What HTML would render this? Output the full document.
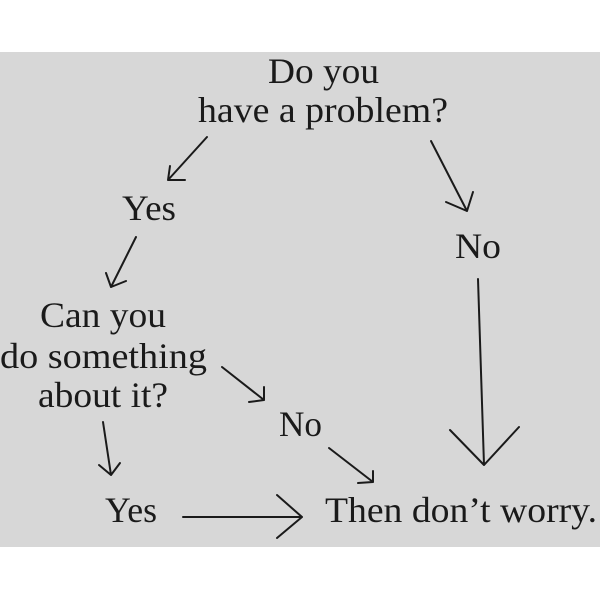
<!DOCTYPE html>
<html><head><style>
html,body{margin:0;padding:0;background:#fff;}
svg{display:block;}
text{font-family:"Liberation Serif",serif;font-size:36px;fill:#1a1a1a;}
</style></head><body>
<svg width="600" height="600" viewBox="0 0 600 600" xmlns="http://www.w3.org/2000/svg">
<rect x="0" y="0" width="600" height="600" fill="#fff"/>
<rect x="0" y="52" width="600" height="495" fill="#d7d7d7"/>
<text x="268" y="83" textLength="111" lengthAdjust="spacingAndGlyphs">Do you</text>
<text x="198" y="122" textLength="250" lengthAdjust="spacingAndGlyphs">have a problem?</text>
<text x="122" y="220" textLength="54" lengthAdjust="spacingAndGlyphs">Yes</text>
<text x="455" y="258" textLength="46" lengthAdjust="spacingAndGlyphs">No</text>
<text x="40" y="327" textLength="126" lengthAdjust="spacingAndGlyphs">Can you</text>
<text x="0" y="368" textLength="207" lengthAdjust="spacingAndGlyphs">do something</text>
<text x="38" y="407" textLength="130" lengthAdjust="spacingAndGlyphs">about it?</text>
<text x="279" y="436" textLength="43" lengthAdjust="spacingAndGlyphs">No</text>
<text x="105" y="522" textLength="52" lengthAdjust="spacingAndGlyphs">Yes</text>
<text x="325" y="522" textLength="272" lengthAdjust="spacingAndGlyphs">Then don’t worry.</text>
<g stroke="#1a1a1a" stroke-width="2" fill="none" stroke-linecap="round" stroke-linejoin="round">
<path d="M207 137 L168 180 M170 166 L168 180 L185 180"/>
<path d="M431 141 L467 211 M446 202 L467 211 L473 192"/>
<path d="M136 237 L111 287 M106 273 L111 287 L126 281"/>
<path d="M478 279 L484 465 M450 430 L484 465 L519 427"/>
<path d="M222 367 L264 400 M249 402 L264 400 L264 387"/>
<path d="M329 448 L373 482 M358 483 L373 482 L373 471"/>
<path d="M103 422 L111 475 M99 465 L111 475 L120 463"/>
<path d="M183 517 L302 517 M277 495 L302 517 L277 538"/>
</g>
</svg>
</body></html>
